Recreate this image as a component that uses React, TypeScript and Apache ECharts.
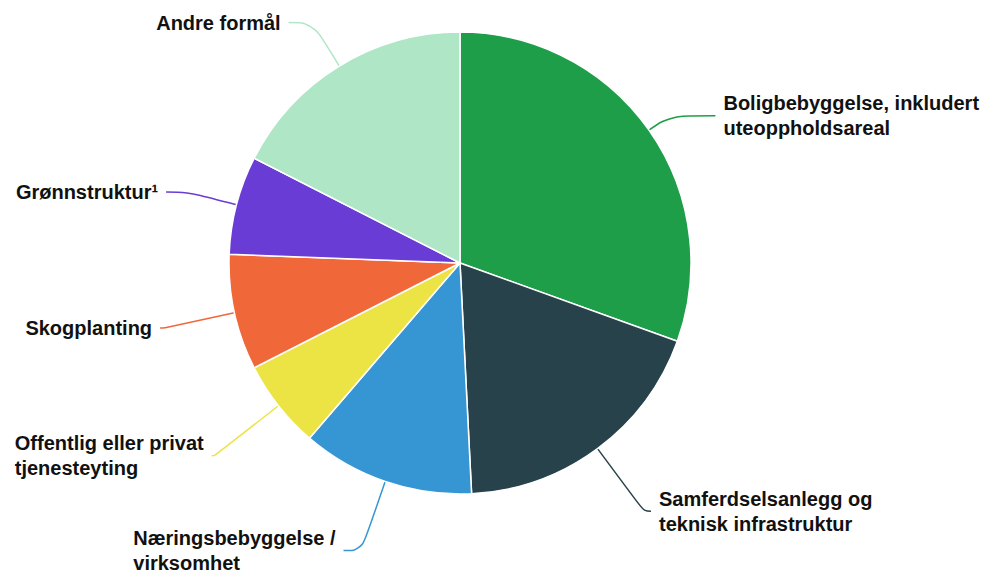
import React, { useEffect, useRef } from "react";
import * as echarts from "echarts";

const categories = [
  "Boligbebyggelse, inkludert\nuteoppholdsareal",
  "Samferdselsanlegg og\nteknisk infrastruktur",
  "Næringsbebyggelse /\nvirksomhet",
  "Offentlig eller privat\ntjenesteyting",
  "Skogplanting",
  "Grønnstruktur¹",
  "Andre formål",
];
const values = [30.5, 18.7, 12.1, 6.2, 8.1, 6.9, 17.5];
const colors = ["#1f9e4a", "#27424a", "#3596d3", "#ece345", "#f0683a", "#6a3cd6", "#aee6c6"];
// label line legs (first leg, second leg) per slice
const lineLen1 = [25, 78, 73, 81, 71, 51, 51];
const lineLen2 = [46, 7, 18, 3, 5, 21, 24];

const FONT = "'Liberation Sans', Arial, sans-serif";

export default function App() {
  const ref = useRef<HTMLDivElement>(null);
  useEffect(() => {
    if (!ref.current) return;
    const chart = echarts.init(ref.current, null, { renderer: "svg" });
    const tokenStyle = {
      align: "left",
      fontSize: 20,
      fontWeight: "bold",
      fontFamily: FONT,
      color: "#111",
      lineHeight: 25,
    };
    chart.setOption({
      animation: false,
      backgroundColor: "#ffffff",
      series: [
        {
          type: "pie",
          center: [460, 263],
          radius: [0, 231],
          startAngle: 90,
          clockwise: true,
          avoidLabelOverlap: false,
          itemStyle: { borderColor: "#ffffff", borderWidth: 1.5 },
          label: {
            show: true,
            position: "outside",
            distanceToLabelLine: 8,
            fontSize: 20,
            fontWeight: "bold",
            fontFamily: FONT,
            color: "#111",
            lineHeight: 25,
            formatter: (p: any) =>
              String(p.name)
                .split("\n")
                .map((l: string) => `{t|${l}}`)
                .join("\n"),
            rich: { t: tokenStyle },
          },
          labelLine: { show: true, smooth: 0.4, lineStyle: { width: 1.5 } },
          emphasis: { disabled: true },
          data: categories.map((name, i) => ({
            name,
            value: values[i],
            itemStyle: { color: colors[i] },
            labelLine: { length: lineLen1[i], length2: lineLen2[i] },
          })),
        },
      ],
    });
    return () => chart.dispose();
  }, []);
  return (
    <div
      ref={ref}
      style={{ position: "fixed", left: 0, top: 0, width: 989, height: 573 }}
    />
  );
}
